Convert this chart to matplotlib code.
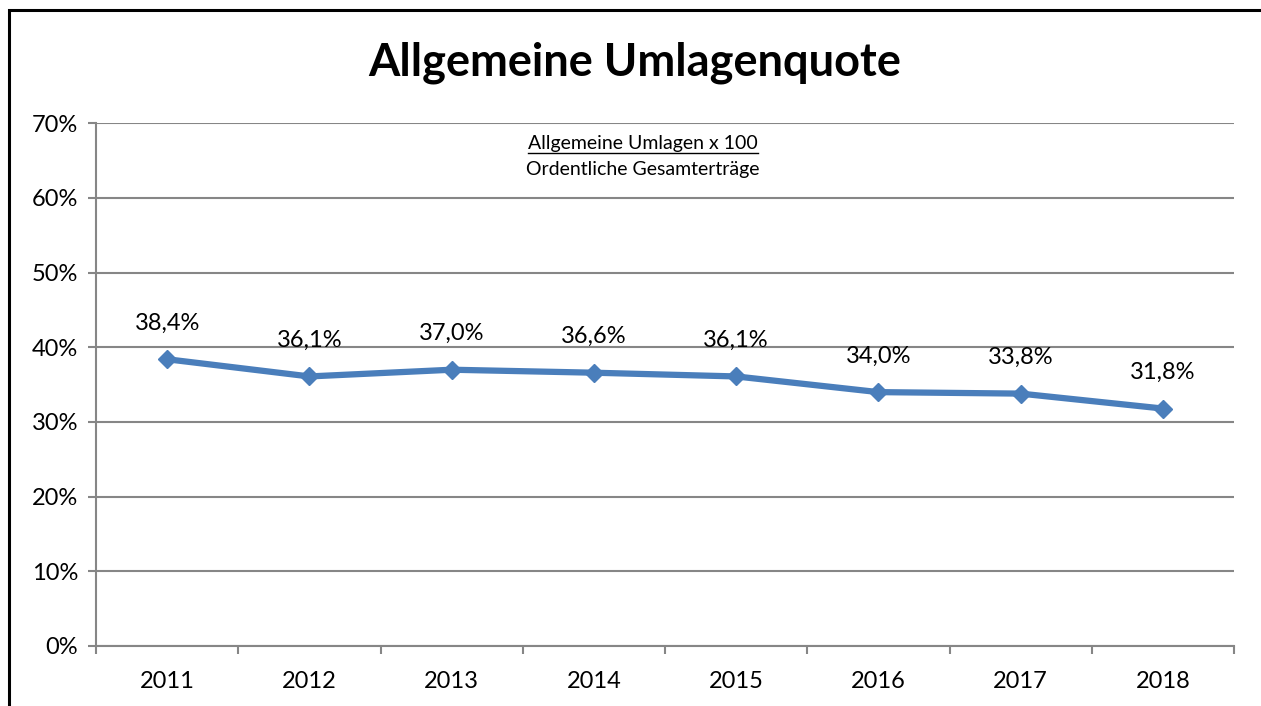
import matplotlib; matplotlib.use("Agg")
import matplotlib.pyplot as plt
from matplotlib.lines import Line2D
from matplotlib.patches import Rectangle
import numpy as np

years = ["2011", "2012", "2013", "2014", "2015", "2016", "2017", "2018"]
quote = [38.4, 36.1, 37.0, 36.6, 36.1, 34.0, 33.8, 31.8]
yticks = [0, 10, 20, 30, 40, 50, 60, 70]

plt.rcParams["font.family"] = ["Lato", "DejaVu Sans"]
BLUE = "#4a7ebb"
GRID = "#868686"

fig = plt.figure(figsize=(12.61, 7.06), dpi=100)
ax = fig.add_axes([96/1261, 60/706, (1234-96)/1261, (646-123.3)/706])

x = np.arange(len(years))
ax.plot(x, quote, "-", color=BLUE, lw=4.5, marker="D", ms=9.5, mfc=BLUE, mec=BLUE, zorder=3)
for xi, v in zip(x, quote):
    ax.annotate(f"{v:.1f}%".replace(".", ","), (xi, v), xytext=(0, 26), textcoords="offset points",
                ha="center", va="center", fontsize=17, color="black")

ax.set_xlim(-0.5, len(years) - 0.5)
ax.set_ylim(0, 70)
ax.set_yticks(yticks)
ax.set_yticklabels([f"{t}%" for t in yticks], fontsize=17)
ax.set_xticks(x)
ax.set_xticklabels(years, fontsize=17)
ax.set_xticks(np.arange(-0.5, len(years)), minor=True)
ax.tick_params(axis="x", which="major", length=0, pad=18)
ax.tick_params(axis="x", which="minor", length=6, color=GRID, width=1.5)
ax.tick_params(axis="y", length=6, color=GRID, width=1.5, pad=7)
ax.grid(axis="y", color=GRID, lw=1.5)
ax.set_axisbelow(True)
for s in ("top", "right"):
    ax.spines[s].set_visible(False)
for s in ("left", "bottom"):
    ax.spines[s].set_color(GRID); ax.spines[s].set_linewidth(1.5)

fig.text(635/1261, 1 - 63/706, "Allgemeine Umlagenquote", ha="center", va="center",
         fontsize=32.5, fontweight="bold")
t1 = fig.text(643/1261, 1 - 143/706, "Allgemeine Umlagen x 100", ha="center", va="center", fontsize=14)
fig.text(643/1261, 1 - 170/706, "Ordentliche Gesamterträge", ha="center", va="center", fontsize=14)

# underline the numerator
fig.canvas.draw()
bb = t1.get_window_extent()
uy = 706 - 153
fig.add_artist(Line2D([bb.x0/1261, bb.x1/1261], [uy/706, uy/706], color="black", lw=1.0,
                      transform=fig.transFigure))

# outer frame (cropped at right and bottom)
fig.add_artist(Rectangle((8.5/1261, -0.1), 1.2, (706 - 10.5)/706 + 0.1, fill=False,
                         ec="black", lw=2.2, transform=fig.transFigure, clip_on=False))

fig.savefig("out.png", dpi=100)
